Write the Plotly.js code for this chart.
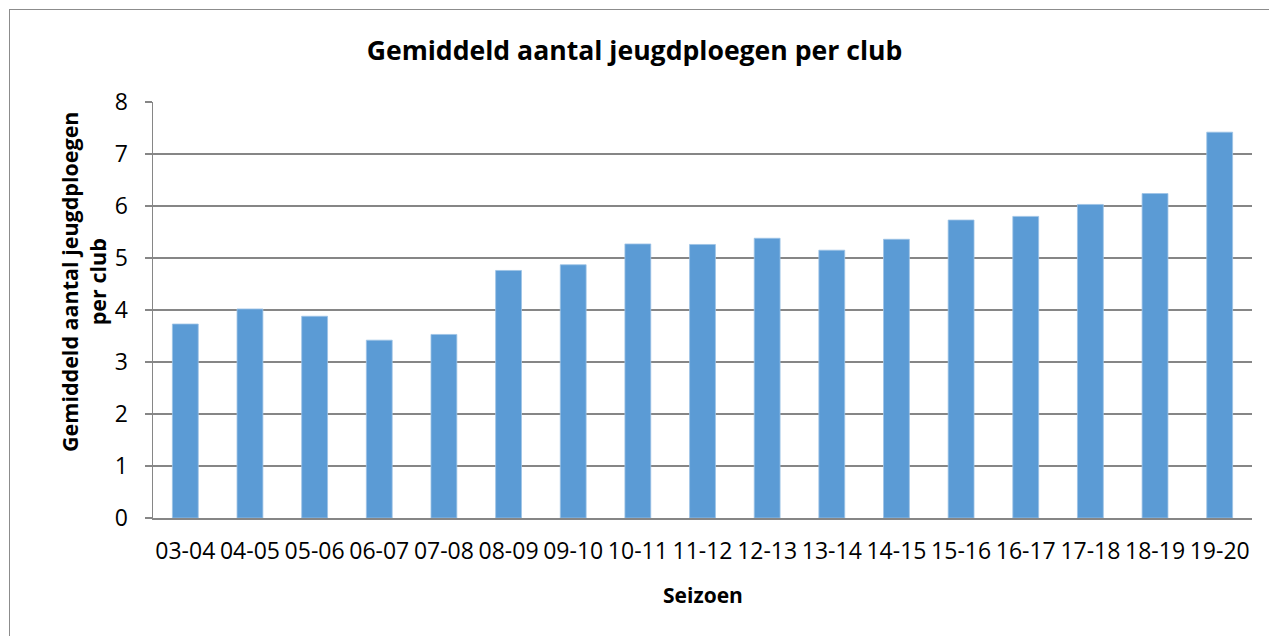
<!DOCTYPE html>
<html>
<head>
<meta charset="utf-8">
<script src="https://cdn.plot.ly/plotly-3.0.1.min.js"></script>
<style>
  html, body { margin: 0; padding: 0; background: #fff; overflow: hidden; }
  #wrap { position: relative; width: 1269px; height: 636px; }
  #chart { position: absolute; left: 0; top: 0; width: 1269px; height: 636px; }
  #frame { position: absolute; left: 9px; top: 9px; width: 1300px; height: 700px;
           border: 1px solid #8c8c8c; pointer-events: none; box-sizing: border-box; }
</style>
</head>
<body>
<div id="wrap">
  <div id="chart"></div>
  <div id="frame"></div>
</div>
<script>
const seasons = ["03-04","04-05","05-06","06-07","07-08","08-09","09-10","10-11","11-12",
                 "12-13","13-14","14-15","15-16","16-17","17-18","18-19","19-20"];
const avgTeams = [3.73, 4.02, 3.88, 3.42, 3.53, 4.76, 4.87, 5.27, 5.26,
                  5.38, 5.15, 5.36, 5.73, 5.80, 6.03, 6.24, 7.42];
const yTicks = [0, 1, 2, 3, 4, 5, 6, 7, 8];

const chartTitle = "Gemiddeld aantal jeugdploegen per club";
const xTitle = "Seizoen";
const yTitle = "Gemiddeld aantal jeugdploegen<br>per club";

const FONT = "Open Sans, sans-serif";

const data = [{
  type: "bar",
  x: seasons,
  y: avgTeams,
  marker: { color: "#5B9BD5", line: { color: "#9DC3E6", width: 0.8 } },
  hoverinfo: "x+y"
}];

const layout = {
  width: 1269,
  height: 636,
  margin: { l: 153, r: 17, t: 102, b: 118 },
  paper_bgcolor: "#ffffff",
  plot_bgcolor: "#ffffff",
  showlegend: false,
  bargap: 0.6,
  font: { family: FONT, color: "#000000" },
  title: {
    text: "<b>" + chartTitle + "</b>",
    font: { family: FONT, size: 26.6, color: "#000" },
    x: 0.5, xanchor: "center",
    y: 1 - 51 / 636, yanchor: "middle", yref: "container"
  },
  xaxis: {
    type: "category",
    tickfont: { family: FONT, size: 23, color: "#000" },
    showgrid: false,
    showline: true, linecolor: "#868686", linewidth: 1.5,
    ticks: "outside", ticklen: 12, tickcolor: "rgba(0,0,0,0)",
    automargin: false
  },
  yaxis: {
    range: [0, 8],
    tickvals: yTicks,
    ticktext: yTicks.map(String),
    tickfont: { family: FONT, size: 23, color: "#000" },
    showgrid: true, gridcolor: "#868686", gridwidth: 1.2,
    showline: true, linecolor: "#868686", linewidth: 1.5,
    ticks: "outside", ticklen: 7, tickcolor: "#868686", tickwidth: 1.2,
    ticklabelstandoff: 12,
    zeroline: false,
    automargin: false
  },
  annotations: [{
    text: "<b>" + yTitle + "</b>",
    xref: "paper", yref: "paper",
    x: (83 - 153) / 1099, y: (518 - 282) / 416,
    xanchor: "center", yanchor: "middle",
    textangle: -90,
    showarrow: false,
    font: { family: FONT, size: 21.5, color: "#000" },
    align: "center"
  }, {
    text: "<b>" + xTitle + "</b>",
    xref: "paper", yref: "paper",
    x: 0.5, y: (518 - 595) / 416,
    xanchor: "center", yanchor: "middle",
    showarrow: false,
    font: { family: FONT, size: 21, color: "#000" }
  }]
};

Plotly.newPlot("chart", data, layout, { displayModeBar: false, staticPlot: true });
</script>
</body>
</html>
